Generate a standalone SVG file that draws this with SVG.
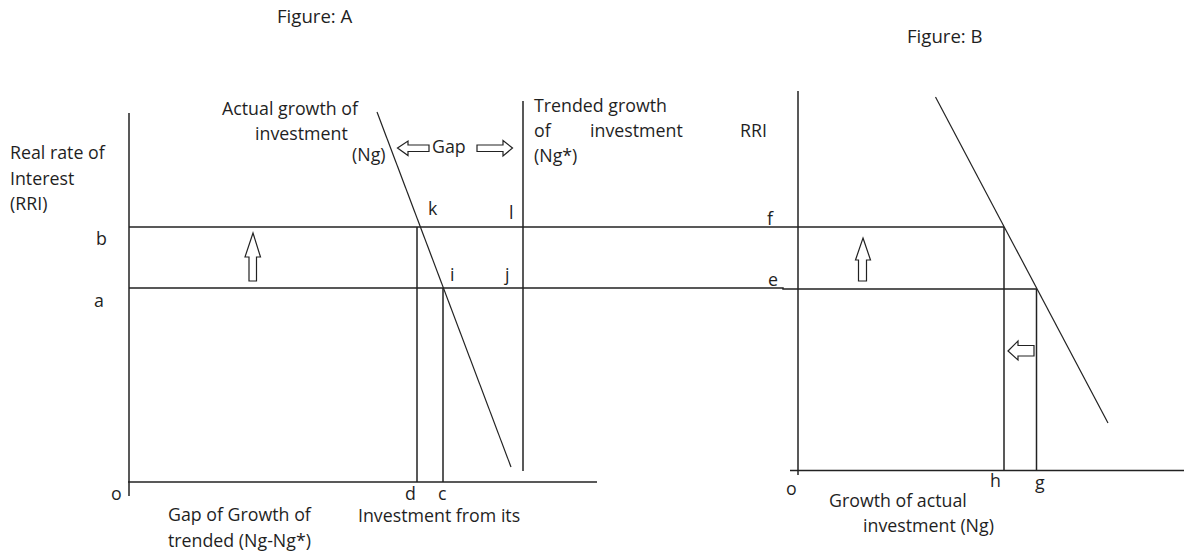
<svg xmlns="http://www.w3.org/2000/svg" width="1184" height="552" viewBox="0 0 1184 552">
<style>
text{font-family:"Open Sans","Noto Sans","Liberation Sans",sans-serif;font-size:17.8px;fill:#1f1f1f}
.title{font-size:18.6px}
.ln{stroke:#222;stroke-width:1.5;fill:none}
.thin{stroke:#222;stroke-width:1.2;fill:none}
.arr{stroke:#222;stroke-width:1.2;fill:#fff}
</style>
<rect width="1184" height="552" fill="#fff"/>
<g id="titles">
<text class="title" x="277" y="23">Figure: A</text>
<text class="title" x="907" y="43">Figure: B</text>
</g>
<g id="figure-a-axes">
<line class="ln" x1="129" y1="113" x2="129" y2="496"/>
<line class="ln" x1="128" y1="482" x2="597" y2="482"/>
</g>
<g id="connectors">
<line class="ln" x1="129" y1="227" x2="1004" y2="227"/>
<path class="ln" d="M129 288H783V289H1037"/>
<line class="ln" x1="417" y1="227" x2="417" y2="482"/>
<line class="ln" x1="443" y1="288" x2="443" y2="482"/>
<line class="ln" x1="523" y1="101" x2="523" y2="471"/>
<line class="thin" x1="377" y1="112" x2="511" y2="467"/>
<line class="ln" x1="798" y1="91" x2="798" y2="475"/>
<line class="ln" x1="790" y1="470.5" x2="1184" y2="470.5"/>
<line class="ln" x1="1004" y1="227" x2="1004" y2="470"/>
<line class="ln" x1="1036.5" y1="289" x2="1036.5" y2="470"/>
<line class="thin" x1="935.5" y1="97" x2="1108" y2="423"/>
</g>
<g id="arrows">
<path class="arr" d="M253 233L260.5 257H256.5V281H249V257H245Z"/>
<path class="arr" d="M397.5 148L408 141V145H429V151.5H408V155.5Z"/>
<path class="arr" d="M512.5 148L503 140.5V145H477V151.5H503V156Z"/>
<path class="arr" d="M863 238L870.5 260H866.5V281H858.5V260H855.5Z"/>
<path class="arr" d="M1008 351L1018 341V345.5H1034V356H1018V360Z"/>
</g>
<g id="labels-a">
<text x="10" y="159">Real rate of</text>
<text x="10" y="185">Interest</text>
<text x="10" y="210">(RRI)</text>
<text x="96" y="245">b</text>
<text x="94" y="307">a</text>
<text x="222" y="115">Actual growth of</text>
<text x="255" y="140">investment</text>
<text x="352" y="161">(Ng)</text>
<text x="432" y="153">Gap</text>
<text x="534" y="112">Trended growth</text>
<text x="534" y="137">of</text>
<text x="590" y="137">investment</text>
<text x="534" y="162">(Ng*)</text>
<text x="428" y="215">k</text>
<text x="509" y="219">l</text>
<text x="450" y="281">i</text>
<text x="505" y="281">j</text>
<text x="111" y="500">o</text>
<text x="405" y="500">d</text>
<text x="438" y="500">c</text>
<text x="168" y="521">Gap of Growth of</text>
<text x="168" y="547">trended (Ng-Ng*)</text>
<text x="358" y="522">Investment from its</text>
</g>
<g id="labels-b">
<text x="740" y="137">RRI</text>
<text x="767" y="225">f</text>
<text x="768" y="286">e</text>
<text x="786" y="495">o</text>
<text x="990" y="487">h</text>
<text x="1035" y="489">g</text>
<text x="829" y="507">Growth of actual</text>
<text x="863" y="532">investment (Ng)</text>
</g>
</svg>
